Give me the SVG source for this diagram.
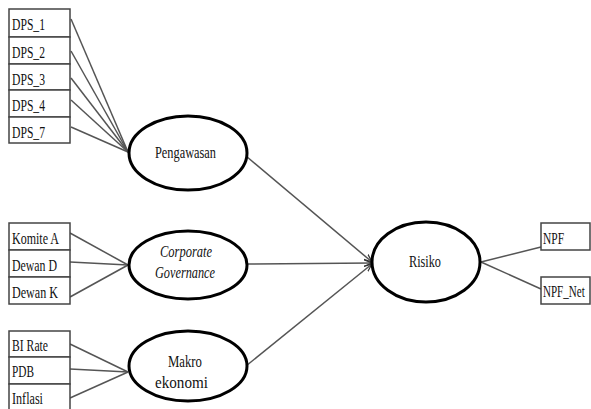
<svg xmlns="http://www.w3.org/2000/svg" width="591" height="409" viewBox="0 0 591 409">
<defs>
<style>
.box{fill:#fff;stroke:#444;stroke-width:1.5}
.ell{fill:#fff;stroke:#000;stroke-width:3}
.ln{stroke:#555;stroke-width:1.5;fill:none}
.t{font-family:'Liberation Serif','Times New Roman',serif;font-size:17px;fill:#111}
.i{font-style:italic}
</style>
<marker id="ah" viewBox="0 0 10 10" refX="10" refY="5" markerWidth="8" markerHeight="8" orient="auto" markerUnits="userSpaceOnUse">
<path d="M0,1 L10,5 L0,9" fill="none" stroke="#333" stroke-width="1.5"/>
</marker>
</defs>
<rect width="591" height="409" fill="#fff"/>
<g id="connectors">
<line class="ln" x1="71" y1="19" x2="128" y2="152"/>
<line class="ln" x1="71" y1="51" x2="128" y2="152"/>
<line class="ln" x1="71" y1="78" x2="128" y2="152"/>
<line class="ln" x1="71" y1="100" x2="128" y2="152"/>
<line class="ln" x1="71" y1="127" x2="128" y2="152"/>
<line class="ln" x1="70" y1="233" x2="128" y2="265"/>
<line class="ln" x1="70" y1="262" x2="128" y2="265"/>
<line class="ln" x1="70" y1="297" x2="128" y2="265"/>
<line class="ln" x1="70" y1="344" x2="128" y2="372"/>
<line class="ln" x1="70" y1="369" x2="128" y2="372"/>
<line class="ln" x1="70" y1="398" x2="128" y2="372"/>
<line class="ln" x1="246" y1="156" x2="372" y2="262" marker-end="url(#ah)"/>
<line class="ln" x1="248" y1="264" x2="372" y2="263" marker-end="url(#ah)"/>
<line class="ln" x1="246" y1="366" x2="372" y2="264" marker-end="url(#ah)"/>
<line class="ln" x1="481" y1="262" x2="541" y2="247"/>
<line class="ln" x1="481" y1="262" x2="541" y2="289"/>
</g>
<g id="DPS_1"><rect class="box" x="9" y="9" width="61" height="28"/><text class="t" x="12" y="30" textLength="33" lengthAdjust="spacingAndGlyphs">DPS_1</text></g>
<g id="DPS_2"><rect class="box" x="9" y="37" width="61" height="27"/><text class="t" x="12" y="58" textLength="33" lengthAdjust="spacingAndGlyphs">DPS_2</text></g>
<g id="DPS_3"><rect class="box" x="9" y="64" width="61" height="26"/><text class="t" x="12" y="85" textLength="33" lengthAdjust="spacingAndGlyphs">DPS_3</text></g>
<g id="DPS_4"><rect class="box" x="9" y="90" width="61" height="27"/><text class="t" x="12" y="111" textLength="33" lengthAdjust="spacingAndGlyphs">DPS_4</text></g>
<g id="DPS_7"><rect class="box" x="9" y="117" width="61" height="26"/><text class="t" x="12" y="138" textLength="33" lengthAdjust="spacingAndGlyphs">DPS_7</text></g>
<g id="KomiteA"><rect class="box" x="9" y="223" width="61" height="27"/><text class="t" x="12" y="244" textLength="47" lengthAdjust="spacingAndGlyphs">Komite A</text></g>
<g id="DewanD"><rect class="box" x="9" y="250" width="61" height="27"/><text class="t" x="12" y="271" textLength="45" lengthAdjust="spacingAndGlyphs">Dewan D</text></g>
<g id="DewanK"><rect class="box" x="9" y="277" width="61" height="27"/><text class="t" x="12" y="298" textLength="46" lengthAdjust="spacingAndGlyphs">Dewan K</text></g>
<g id="BIRate"><rect class="box" x="9" y="331" width="61" height="26"/><text class="t" x="12" y="351" textLength="36" lengthAdjust="spacingAndGlyphs">BI Rate</text></g>
<g id="PDB"><rect class="box" x="9" y="357" width="61" height="27"/><text class="t" x="12" y="377" textLength="22" lengthAdjust="spacingAndGlyphs">PDB</text></g>
<g id="Inflasi"><rect class="box" x="9" y="384" width="61" height="30"/><text class="t" x="12" y="404" textLength="31" lengthAdjust="spacingAndGlyphs">Inflasi</text></g>
<g id="NPF"><rect class="box" x="541" y="223" width="49" height="27"/><text class="t" x="543" y="244" textLength="21" lengthAdjust="spacingAndGlyphs">NPF</text></g>
<g id="NPF_Net"><rect class="box" x="541" y="277" width="49" height="27"/><text class="t" transform="translate(543,297) scale(0.65,1)" x="0" y="0">NPF_Net</text></g>
<g id="Pengawasan"><ellipse class="ell" cx="188" cy="153" rx="59" ry="37"/><text class="t" x="155" y="158" textLength="61" lengthAdjust="spacingAndGlyphs">Pengawasan</text></g>
<g id="CorporateGovernance"><ellipse class="ell" cx="188" cy="265" rx="59" ry="34"/><text class="t i" x="160" y="257" textLength="52" lengthAdjust="spacingAndGlyphs">Corporate</text><text class="t i" x="155" y="278" textLength="60" lengthAdjust="spacingAndGlyphs">Governance</text></g>
<g id="MakroEkonomi"><ellipse class="ell" cx="188" cy="366" rx="59" ry="35"/><text class="t" x="168" y="367" textLength="34" lengthAdjust="spacingAndGlyphs">Makro</text><text class="t" x="155" y="388" textLength="53" lengthAdjust="spacingAndGlyphs">ekonomi</text></g>
<g id="Risiko"><ellipse class="ell" cx="426" cy="262" rx="54" ry="40"/><text class="t" x="409" y="267" textLength="32" lengthAdjust="spacingAndGlyphs">Risiko</text></g>
</svg>
